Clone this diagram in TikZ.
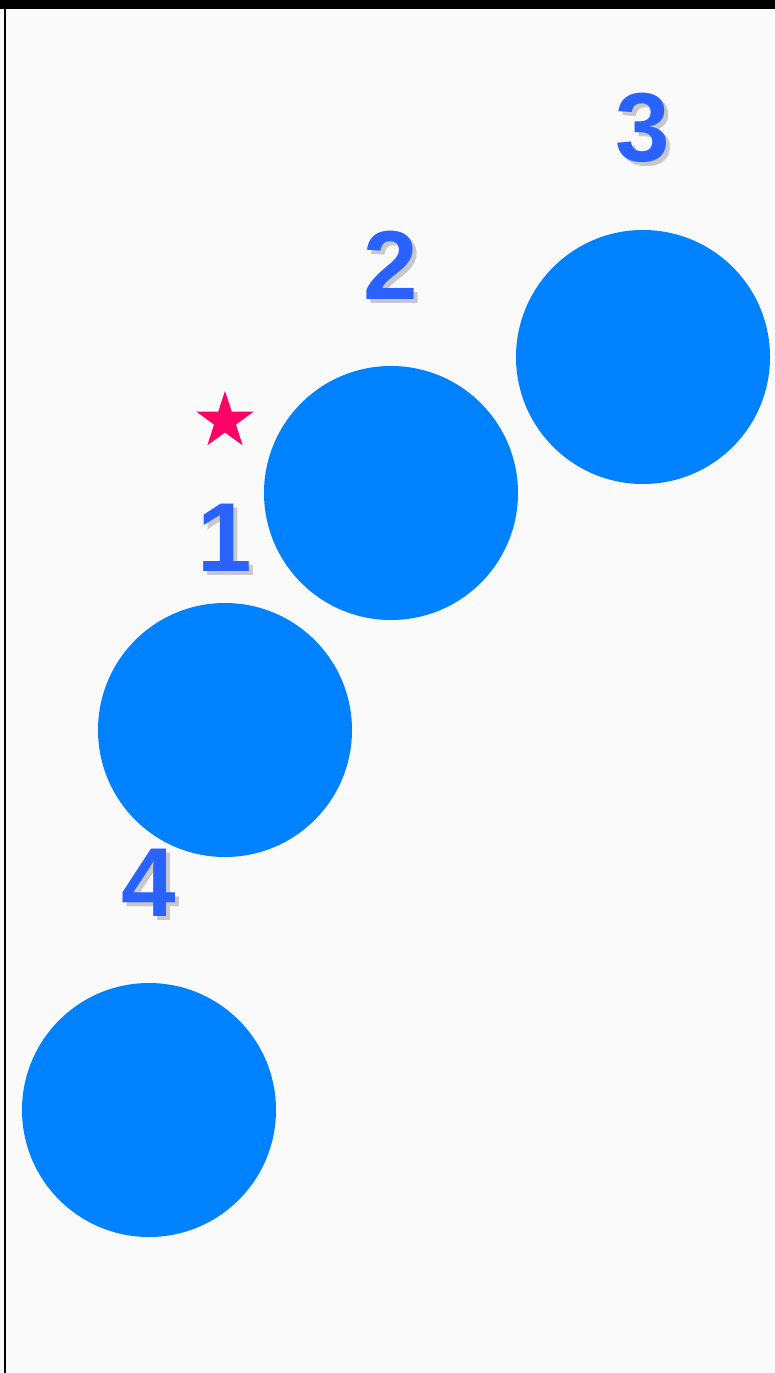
\documentclass[tikz,border=0pt]{standalone}
\usepackage{fontspec}
\setmainfont{Liberation Sans}
\usetikzlibrary{shapes.geometric}
\definecolor{bg}{RGB}{250,250,250}
\definecolor{dotblue}{RGB}{0,130,255}
\definecolor{numblue}{RGB}{41,98,255}
\definecolor{shade}{RGB}{200,200,200}
\definecolor{starpink}{RGB}{255,0,102}
\newcommand{\shadednum}[1]{\rlap{\hspace{4pt}\raisebox{-4pt}{\color{shade}#1}}#1}
\tikzset{
  dot/.style={circle,fill=dotblue,draw=none,minimum size=254pt,inner sep=0pt},
  numlbl/.style={font=\fontsize{98}{98}\selectfont\bfseries,text=numblue,inner sep=0pt},
  starmark/.style={star,star points=5,star point ratio=2.6,fill=starpink,draw=none,minimum size=60pt,inner sep=0pt}
}
\begin{document}
\begin{tikzpicture}[x=1pt,y=-1pt]
\fill[bg] (0,0) rectangle (775,1373);
\useasboundingbox (0,0) rectangle (775,1373);
\fill[black] (0,0) rectangle (775,9);
\fill[black] (3.5,0) rectangle (6,1373);
\node[dot] (c3) at (643,357) {};
\node[dot] (c2) at (391,493) {};
\node[dot] (c1) at (225,730) {};
\node[dot] (c4) at (149,1110) {};
\node[numlbl] (n3) at (643,130) {\shadednum{3}};
\node[numlbl] (n2) at (391,267) {\shadednum{2}};
\node[numlbl] (n1) at (225,540) {\shadednum{1}};
\node[numlbl] (n4) at (149,885) {\shadednum{4}};
\node[starmark] (s) at (225,421) {};
\end{tikzpicture}
\end{document}
